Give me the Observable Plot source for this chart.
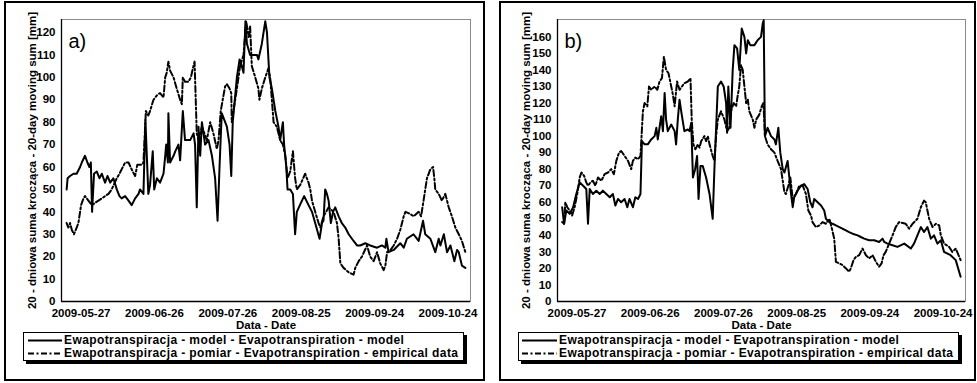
<!DOCTYPE html>
<html><head><meta charset="utf-8">
<script src="https://cdn.jsdelivr.net/npm/d3@7"></script>
<script src="https://cdn.jsdelivr.net/npm/@observablehq/plot@0.6"></script>
<style>
body{margin:0;background:#fff;font-family:"Liberation Sans",Arial,sans-serif;}
#wrap{position:relative;width:977px;height:383px;overflow:hidden;background:#fff;}
.panel{position:absolute;box-sizing:border-box;border:2px solid #000;}
.plotbox{position:absolute;top:0;}
.legend{position:absolute;box-sizing:border-box;border:1px solid #000;background:#fff;box-shadow:3px 3px 0 #000;font-size:12px;font-weight:bold;letter-spacing:0.4px;color:#000;}
.row{position:absolute;height:13px;line-height:13px;white-space:nowrap;}
.row svg{position:absolute;top:0;}
.row span{position:absolute;top:0;}
</style></head>
<body><div id="wrap">
<div class="panel" style="left:4px;top:1px;width:481px;height:380px;"></div>
<div class="panel" style="left:499px;top:1px;width:477px;height:380px;"></div>
<div class="plotbox" id="pa" style="left:0px;"></div>
<div class="plotbox" id="pb" style="left:490px;"></div>
<div class="legend" id="la" style="left:23px;top:332px;width:441px;height:29px;"></div>
<div class="legend" id="lb" style="left:518px;top:332px;width:441px;height:29px;"></div>
</div>
<script>
// ---- data (days counted from 2009-05-27) ----
const baseDate = "2009-05-27";
const xTickLabels = ["2009-05-27","2009-06-26","2009-07-26","2009-08-25","2009-09-24","2009-10-24"];
const xDomainDays = [-8, 159.2];
const seriesNames = ["Ewapotranspiracja - model - Evapotranspiration - model",
                     "Ewapotranspiracja - pomiar - Evapotranspiration - empirical data"];
const yLabel = "20 - dniowa suma krocząca - 20-day moving sum [mm]";
const panelTags = ["a)", "b)"];
const aYTicks = [0,10,20,30,40,50,60,70,80,90,100,110,120];
const bYTicks = [0,10,20,30,40,50,60,70,80,90,100,110,120,130,140,150,160];
const aYMax = 125.8, bYMax = 170.5;

const aModelDay = [-5.9,-5.5,-4.5,-3.1,-1.8,-0.4,0.3,1.6,2.6,3.4,4.0,4.5,5.3,6.4,7.5,8.5,9.8,10.8,11.9,13.2,14.6,15.7,16.6,18.0,19.4,20.7,22.1,23.5,24.1,25.5,26.3,27.5,28.2,29.3,29.9,31.0,32.3,33.7,34.4,34.8,35.5,35.7,36.4,37.8,38.5,39.8,40.5,41.6,42.5,44.6,46.0,46.6,47.3,48.0,48.7,49.4,50.7,52.1,53.5,54.8,55.8,56.6,57.5,58.9,59.6,60.7,61.4,62.0,63.7,64.8,65.7,66.4,67.2,67.8,69.1,71.9,72.5,73.9,75.3,76.0,77.0,78.0,79.4,80.7,81.4,82.5,83.0,83.9,84.4,85.5,86.6,87.5,88.2,90.3,91.2,93.0,94.4,95.7,97.5,98.5,99.1,99.8,100.5,101.2,102.1,103.0,103.9,105.3,106.6,108.0,109.4,111.4,112.8,114.1,116.2,118.2,121.0,123.0,124.4,124.8,125.7,127.8,130.5,131.9,133.2,135.9,138.0,139.8,140.7,142.8,144.8,146.2,146.9,148.3,149.6,151.0,152.6,153.7,154.4,155.7,157.1];
const aModelVal = [50,55,56,57,57,60,62,65,62,60,62,40,57,58,55,57,53,56,53,55,50,47,46,47,45,43,46,48,50,48,81,48,52,67,50,55,53,57,65,70,62,84,62,65,67,70,63,85,72,72,75,70,42,78,65,80,70,72,65,55,36,60,84,80,78,70,56,80,100,108,105,102,125,115,110,110,108,115,125,120,100,95,85,78,72,80,70,60,50,50,48,30,40,45,47,43,40,35,28,35,36,50,48,45,35,40,42,38,35,33,30,27,25,25,26,25,24,25,24,28,22,23,26,24,28,30,27,36,30,28,22,28,25,30,22,25,18,23,22,16,15];

const aEmpDay = [-5.9,-5.2,-4.5,-3.8,-2.9,-1.8,-1.1,0.0,1.0,1.6,3.0,4.4,5.7,7.1,8.5,9.8,11.2,12.5,14.6,15.7,18.0,19.4,21.1,22.1,23.0,24.8,25.5,26.5,27.5,28.2,29.6,31.0,32.3,33.7,34.4,35.0,35.7,36.4,37.8,39.1,40.5,41.2,41.6,42.5,43.9,44.9,45.7,46.4,47.3,48.0,49.4,51.4,52.8,54.1,55.5,56.2,57.1,57.9,58.9,59.6,60.7,61.4,61.6,62.3,63.7,65.0,66.4,67.5,68.5,69.1,69.8,71.2,72.5,72.9,73.9,75.3,76.6,77.3,78.0,78.7,80.0,81.4,82.5,83.5,84.4,85.5,86.6,87.5,88.2,89.6,91.6,92.3,93.0,93.7,94.4,95.7,97.1,97.8,99.1,101.2,103.2,104.6,105.3,106.0,107.3,109.4,111.4,112.1,113.5,114.8,116.9,118.2,119.6,121.0,122.3,123.7,124.4,125.1,126.5,127.8,129.2,130.5,131.9,132.6,134.6,136.0,138.0,139.0,140.0,141.4,142.8,143.9,144.4,144.8,146.2,147.5,148.9,150.3,151.6,153.0,154.4,155.7,157.1];
const aEmpVal = [35,33,35,32,30,33,35,43,46,47,45,43,44,45,46,47,48,50,55,57,62,62,58,56,61,61,62,85,83,85,90,92,93,91,100,102,107,103,100,95,90,88,100,98,98,100,104,107,75,72,78,72,80,75,68,72,85,90,96,97,95,93,80,85,95,105,110,125,118,123,105,100,95,90,95,100,104,100,90,80,78,72,70,65,55,58,67,55,50,52,57,55,53,50,45,40,35,33,38,42,40,35,28,17,15,13,12,15,18,20,25,20,18,22,17,14,16,22,23,25,28,32,38,40,39,38,40,38,45,55,59,60,55,50,48,45,48,42,38,33,30,27,22];

const bModelDay = [-6.1,-5.3,-4.4,-3.0,-1.6,-0.3,1.1,2.5,3.8,4.5,5.2,6.5,7.9,9.3,10.6,12.0,13.4,14.7,15.7,16.8,18.1,19.5,20.6,21.5,22.9,23.9,25.0,26.0,26.6,27.7,29.0,30.4,31.8,32.5,33.1,34.5,35.2,35.9,36.5,37.2,38.6,40.0,40.6,41.3,42.0,42.7,44.0,45.4,46.1,46.8,47.5,48.4,49.2,49.8,50.6,51.5,52.9,54.3,55.6,56.3,57.7,59.0,60.1,61.1,61.5,62.0,62.9,63.8,64.5,65.6,66.5,67.5,68.6,69.3,70.0,71.0,72.7,74.0,75.4,76.1,76.5,77.0,78.1,79.5,80.9,81.5,82.5,83.3,84.3,85.0,86.3,87.0,87.7,88.4,89.0,90.4,91.8,93.1,94.5,95.6,96.5,97.2,98.6,100.0,101.3,102.0,103.4,104.7,106.1,107.5,108.8,110.2,111.5,112.9,115.0,116.3,117.7,119.7,121.8,123.8,125.2,125.9,127.2,129.3,131.3,134.1,136.8,138.1,139.5,140.9,142.2,143.6,145.0,146.3,147.7,149.1,150.4,153.1,155.2,157.2];
const bModelVal = [57,47,55,53,57,65,72,70,68,47,68,65,67,65,67,65,63,65,58,62,60,62,57,62,57,63,62,65,97,95,95,98,100,105,98,112,103,126,110,103,107,103,95,110,122,115,103,104,103,108,75,80,88,62,82,82,75,65,50,80,130,133,130,120,102,130,105,140,155,153,140,165,160,150,158,155,155,158,160,168,170,100,105,100,98,95,105,90,80,78,85,75,65,57,63,67,70,71,68,60,57,62,60,58,55,50,48,47,46,45,44,43,42,41,40,39,38,37,37,36,38,36,35,34,33,35,32,35,40,45,42,45,38,40,35,37,30,28,25,15];

const bEmpDay = [-6.1,-5.3,-4.8,-4.0,-3.0,-2.0,-1.0,0.1,1.1,1.8,2.9,3.8,4.5,5.5,6.5,7.5,8.6,10.0,11.3,12.7,14.0,15.1,16.1,17.2,18.1,19.5,20.9,22.2,22.9,23.9,25.0,26.0,27.0,27.7,28.8,29.5,30.4,31.8,32.9,33.8,34.8,35.6,36.5,37.5,38.6,39.3,40.0,41.0,42.0,43.0,44.0,45.4,46.5,47.0,47.7,48.5,49.5,50.2,50.9,52.2,52.9,53.6,54.3,55.6,56.3,57.0,57.7,59.0,60.4,61.5,62.4,63.1,64.2,65.2,65.9,66.5,67.2,67.9,68.6,69.3,70.0,70.6,72.0,72.7,73.4,74.7,75.7,76.4,77.0,78.1,79.5,80.9,82.2,83.6,84.3,85.0,85.6,86.6,87.4,88.4,89.7,91.1,92.5,93.8,94.8,95.9,96.5,97.9,99.3,100.6,102.0,103.4,104.3,105.4,106.1,107.5,108.8,110.2,111.5,112.2,113.3,114.3,115.6,117.0,118.4,119.7,121.1,122.5,123.8,124.8,125.6,126.5,127.9,129.3,130.6,132.0,134.7,136.1,137.5,139.5,140.9,142.2,142.9,143.6,144.3,145.7,147.1,148.4,149.1,150.4,152.5,153.8,155.2,157.2];
const bEmpVal = [48,47,60,57,55,52,57,65,75,78,76,72,70,72,73,70,75,73,77,78,80,77,85,90,91,88,85,80,85,87,86,88,115,120,118,130,128,130,128,133,135,148,140,138,130,125,118,133,128,130,132,133,135,110,95,92,95,93,97,100,97,100,95,88,85,100,110,115,110,103,105,115,120,118,125,130,143,140,130,120,122,115,110,105,110,113,118,120,100,95,92,90,85,80,73,66,65,70,75,62,65,70,70,65,55,52,48,45,46,48,47,50,45,38,24,23,22,20,18,20,25,27,28,32,28,26,28,24,21,23,28,30,35,40,45,48,47,44,47,50,57,61,60,55,50,45,47,46,40,35,33,30,32,25];

// ---- build ----
const t0 = new Date(baseDate + "T00:00:00Z");
const toDate = d => new Date(t0.getTime() + d * 864e5);
const rows = (days, vals) => days.map((d, i) => ({date: toDate(d), v: vals[i]}));
const xTicks = xTickLabels.map(s => new Date(s + "T00:00:00Z"));
const fmt = d3.utcFormat("%Y-%m-%d");
const dashDot = "6,2.5,2,2.5";

function panel(opts) {
  const x0 = toDate(xDomainDays[0]), x1 = toDate(xDomainDays[1]);
  return Plot.plot({
    width: opts.width, height: 340,
    marginLeft: opts.ml, marginRight: opts.mr, marginTop: 19, marginBottom: 39,
    style: {fontFamily: "'Liberation Sans', Arial, sans-serif", fontSize: "11.5px", fontWeight: "bold", background: "transparent", color: "#000", overflow: "visible"},
    x: {type: "utc", domain: [x0, x1]},
    y: {domain: [0, opts.ymax]},
    marks: [
      Plot.frame({stroke: "#8c8c8c", strokeWidth: 1}),
      Plot.ruleY([0], {stroke: "#000", strokeWidth: 1.3}),
      Plot.ruleX([x0], {stroke: "#000", strokeWidth: 1.3}),
      Plot.axisX({ticks: xTicks, tickFormat: fmt, tickSize: 0, tickPadding: 7,
        label: "Data - Date", labelAnchor: "center", labelArrow: "none", labelOffset: 27}),
      Plot.axisY({ticks: opts.yticks, tickSize: 0, tickPadding: 6,
        label: yLabel, labelAnchor: "center", labelArrow: "none", labelOffset: opts.lo}),
      Plot.line(opts.emp, {x: "date", y: "v", stroke: "#000", strokeWidth: 2, strokeDasharray: dashDot}),
      Plot.line(opts.model, {x: "date", y: "v", stroke: "#000", strokeWidth: 2}),
      Plot.text([opts.tag], {frameAnchor: "top-left", dx: 7, dy: 14, fontSize: 20, fontWeight: "normal", textAnchor: "start", lineAnchor: "top"})
    ]
  });
}

document.getElementById("pa").appendChild(panel({
  width: 490, ml: 61, mr: 20, ymax: aYMax, yticks: aYTicks, lo: 34, tag: panelTags[0],
  model: rows(aModelDay, aModelVal), emp: rows(aEmpDay, aEmpVal)
}));
document.getElementById("pb").appendChild(panel({
  width: 487, ml: 67, mr: 12, ymax: bYMax, yticks: bYTicks, lo: 36, tag: panelTags[1],
  model: rows(bModelDay, bModelVal), emp: rows(bEmpDay, bEmpVal)
}));

function legend(id, sx0, sx1, tx) {
  const el = document.getElementById(id);
  seriesNames.forEach((name, i) => {
    const r = document.createElement("div");
    r.className = "row";
    r.style.left = "0px";
    r.style.top = (i === 0 ? 1 : 14) + "px";
    r.innerHTML = `<svg width="${sx1}" height="13"><line x1="${sx0}" x2="${sx1}" y1="6.5" y2="6.5" stroke="#000" stroke-width="2" ${i === 1 ? `stroke-dasharray="${dashDot}"` : ""}/></svg><span style="left:${tx}px">${name}</span>`;
    el.appendChild(r);
  });
}
legend("la", 4, 38, 40);
legend("lb", 3, 38, 40);
</script>
</body></html>
